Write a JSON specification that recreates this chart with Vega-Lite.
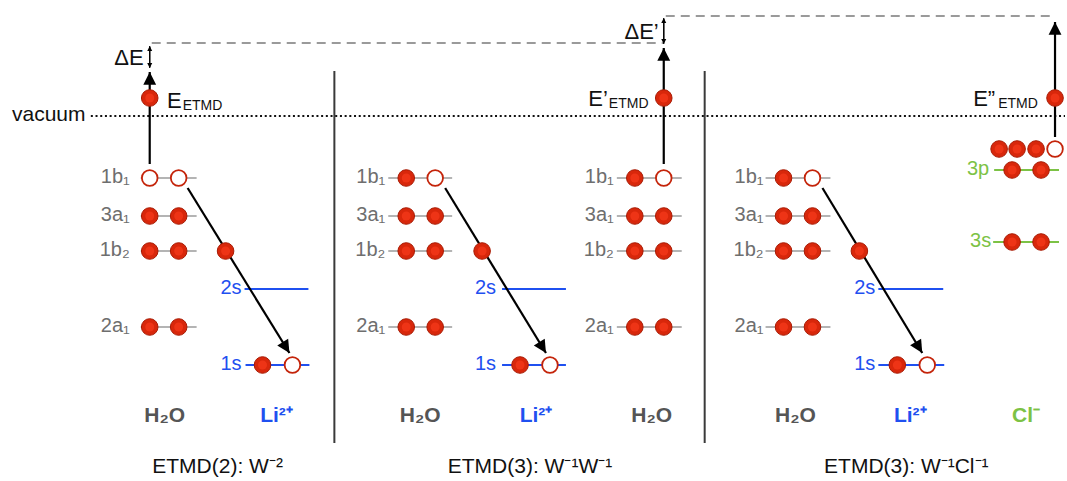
{
  "$schema": "https://vega.github.io/schema/vega-lite/v6.json",
  "width": 1067,
  "height": 481,
  "padding": 0,
  "autosize": {"type": "fit", "contains": "padding"},
  "background": "white",
  "config": {"view": {"stroke": null}, "text": {"font": "Liberation Sans"}},
  "datasets": {
    "seps": [{"x": 335, "y": 71, "y2": 443}, {"x": 706, "y": 71, "y2": 443}],
    "guides": [
      {"x": 152, "x2": 665, "y": 43, "kind": "dash"},
      {"x": 667, "x2": 1055, "y": 16, "kind": "dash"},
      {"x": 91, "x2": 1067, "y": 116, "kind": "dot"}
    ],
    "levels": [
      {"sp": "H2O", "x": 141, "x2": 197, "y": 178}, {"sp": "H2O", "x": 141, "x2": 197, "y": 216},
      {"sp": "H2O", "x": 141, "x2": 197, "y": 251}, {"sp": "H2O", "x": 141, "x2": 197, "y": 327},
      {"sp": "H2O", "x": 389, "x2": 453, "y": 178}, {"sp": "H2O", "x": 389, "x2": 453, "y": 216},
      {"sp": "H2O", "x": 389, "x2": 453, "y": 251}, {"sp": "H2O", "x": 389, "x2": 453, "y": 327},
      {"sp": "H2O", "x": 618, "x2": 683, "y": 178}, {"sp": "H2O", "x": 618, "x2": 683, "y": 216},
      {"sp": "H2O", "x": 618, "x2": 683, "y": 251}, {"sp": "H2O", "x": 618, "x2": 683, "y": 327},
      {"sp": "H2O", "x": 767, "x2": 832, "y": 178}, {"sp": "H2O", "x": 767, "x2": 832, "y": 216},
      {"sp": "H2O", "x": 767, "x2": 832, "y": 251}, {"sp": "H2O", "x": 767, "x2": 832, "y": 327},
      {"sp": "Li", "x": 245, "x2": 309, "y": 289}, {"sp": "Li", "x": 246, "x2": 310, "y": 365},
      {"sp": "Li", "x": 503, "x2": 567, "y": 289}, {"sp": "Li", "x": 503, "x2": 567, "y": 365},
      {"sp": "Li", "x": 880, "x2": 945, "y": 289}, {"sp": "Li", "x": 880, "x2": 946, "y": 365},
      {"sp": "Cl", "x": 996, "x2": 1061, "y": 170}, {"sp": "Cl", "x": 995, "x2": 1061, "y": 242}
    ],
    "arrows": [
      {"x": 150, "y": 164, "x2": 150, "y2": 72, "ang": 0, "kind": "big"},
      {"x": 188, "y": 188, "x2": 290, "y2": 353, "ang": 148.3, "kind": "big"},
      {"x": 446, "y": 188, "x2": 547, "y2": 353, "ang": 148.5, "kind": "big"},
      {"x": 665, "y": 164, "x2": 665, "y2": 48, "ang": 0, "kind": "big"},
      {"x": 824, "y": 188, "x2": 924, "y2": 353, "ang": 148.8, "kind": "big"},
      {"x": 1057, "y": 137, "x2": 1057, "y2": 22, "ang": 0, "kind": "big"},
      {"x": 150, "y": 67, "x2": 150, "y2": 46, "ang": 0, "kind": "small"},
      {"x": 150, "y": 47, "x2": 150, "y2": 68, "ang": 180, "kind": "small"},
      {"x": 665, "y": 42, "x2": 665, "y2": 18, "ang": 0, "kind": "small"},
      {"x": 665, "y": 19, "x2": 665, "y2": 44, "ang": 180, "kind": "small"}
    ],
    "elec": [
      {"x": 150, "y": 178, "st": "hole"}, {"x": 179, "y": 178, "st": "hole"},
      {"x": 150, "y": 216, "st": "full"}, {"x": 179, "y": 216, "st": "full"},
      {"x": 150, "y": 251, "st": "full"}, {"x": 179, "y": 251, "st": "full"},
      {"x": 150, "y": 327, "st": "full"}, {"x": 179, "y": 327, "st": "full"},
      {"x": 226, "y": 251, "st": "full"}, {"x": 263, "y": 365, "st": "full"},
      {"x": 293, "y": 365, "st": "hole"}, {"x": 150, "y": 98, "st": "full"},
      {"x": 407, "y": 178, "st": "full"}, {"x": 436, "y": 178, "st": "hole"},
      {"x": 407, "y": 216, "st": "full"}, {"x": 436, "y": 216, "st": "full"},
      {"x": 407, "y": 251, "st": "full"}, {"x": 436, "y": 251, "st": "full"},
      {"x": 407, "y": 327, "st": "full"}, {"x": 436, "y": 327, "st": "full"},
      {"x": 483, "y": 251, "st": "full"}, {"x": 521, "y": 365, "st": "full"},
      {"x": 551, "y": 365, "st": "hole"},
      {"x": 636, "y": 178, "st": "full"}, {"x": 665, "y": 178, "st": "hole"},
      {"x": 636, "y": 216, "st": "full"}, {"x": 665, "y": 216, "st": "full"},
      {"x": 636, "y": 251, "st": "full"}, {"x": 665, "y": 251, "st": "full"},
      {"x": 636, "y": 327, "st": "full"}, {"x": 665, "y": 327, "st": "full"},
      {"x": 665, "y": 98, "st": "full"},
      {"x": 785, "y": 178, "st": "full"}, {"x": 814, "y": 178, "st": "hole"},
      {"x": 785, "y": 216, "st": "full"}, {"x": 814, "y": 216, "st": "full"},
      {"x": 785, "y": 251, "st": "full"}, {"x": 814, "y": 251, "st": "full"},
      {"x": 785, "y": 327, "st": "full"}, {"x": 814, "y": 327, "st": "full"},
      {"x": 861, "y": 251, "st": "full"}, {"x": 899, "y": 365, "st": "full"},
      {"x": 929, "y": 365, "st": "hole"},
      {"x": 1001, "y": 149, "st": "full"}, {"x": 1019, "y": 149, "st": "full"},
      {"x": 1038, "y": 149, "st": "full"}, {"x": 1057, "y": 149, "st": "hole"},
      {"x": 1014, "y": 170, "st": "full"}, {"x": 1043, "y": 170, "st": "full"},
      {"x": 1014, "y": 242, "st": "full"}, {"x": 1043, "y": 242, "st": "full"},
      {"x": 1057, "y": 98, "st": "full"}
    ],
    "labels": [
      {"role": "lvl", "sp": "H2O", "x": 130, "y": 178, "t": "1b₁"}, {"role": "lvl", "sp": "H2O", "x": 130, "y": 216, "t": "3a₁"},
      {"role": "lvl", "sp": "H2O", "x": 130, "y": 251, "t": "1b₂"}, {"role": "lvl", "sp": "H2O", "x": 130, "y": 327, "t": "2a₁"},
      {"role": "lvl", "sp": "H2O", "x": 386, "y": 178, "t": "1b₁"}, {"role": "lvl", "sp": "H2O", "x": 386, "y": 216, "t": "3a₁"},
      {"role": "lvl", "sp": "H2O", "x": 386, "y": 251, "t": "1b₂"}, {"role": "lvl", "sp": "H2O", "x": 386, "y": 327, "t": "2a₁"},
      {"role": "lvl", "sp": "H2O", "x": 615, "y": 178, "t": "1b₁"}, {"role": "lvl", "sp": "H2O", "x": 615, "y": 216, "t": "3a₁"},
      {"role": "lvl", "sp": "H2O", "x": 615, "y": 251, "t": "1b₂"}, {"role": "lvl", "sp": "H2O", "x": 615, "y": 327, "t": "2a₁"},
      {"role": "lvl", "sp": "H2O", "x": 765, "y": 178, "t": "1b₁"}, {"role": "lvl", "sp": "H2O", "x": 765, "y": 216, "t": "3a₁"},
      {"role": "lvl", "sp": "H2O", "x": 765, "y": 251, "t": "1b₂"}, {"role": "lvl", "sp": "H2O", "x": 765, "y": 327, "t": "2a₁"},
      {"role": "lvl", "sp": "Li", "x": 242, "y": 289, "t": "2s"}, {"role": "lvl", "sp": "Li", "x": 242, "y": 365, "t": "1s"},
      {"role": "lvl", "sp": "Li", "x": 497, "y": 289, "t": "2s"}, {"role": "lvl", "sp": "Li", "x": 497, "y": 365, "t": "1s"},
      {"role": "lvl", "sp": "Li", "x": 877, "y": 289, "t": "2s"}, {"role": "lvl", "sp": "Li", "x": 877, "y": 365, "t": "1s"},
      {"role": "lvl", "sp": "Cl", "x": 991, "y": 170, "t": "3p"}, {"role": "lvl", "sp": "Cl", "x": 993, "y": 242, "t": "3s"},
      {"role": "bottom", "sp": "H2O", "x": 165, "y": 422, "t": "H₂O"}, {"role": "bottom", "sp": "Li", "x": 277, "y": 422, "t": "Li²⁺"},
      {"role": "bottom", "sp": "H2O", "x": 421, "y": 422, "t": "H₂O"}, {"role": "bottom", "sp": "Li", "x": 537, "y": 422, "t": "Li²⁺"},
      {"role": "bottom", "sp": "H2O", "x": 653, "y": 422, "t": "H₂O"},
      {"role": "bottom", "sp": "H2O", "x": 797, "y": 422, "t": "H₂O"}, {"role": "bottom", "sp": "Li", "x": 912, "y": 422, "t": "Li²⁺"},
      {"role": "bottom", "sp": "Cl", "x": 1028, "y": 422, "t": "Cl⁻"},
      {"role": "title", "sp": "none", "x": 218, "y": 473, "t": "ETMD(2): W⁻²"},
      {"role": "title", "sp": "none", "x": 531, "y": 473, "t": "ETMD(3): W⁻¹W⁻¹"},
      {"role": "title", "sp": "none", "x": 908, "y": 473, "t": "ETMD(3): W⁻¹Cl⁻¹"},
      {"role": "emain", "sp": "none", "x": 182, "y": 108, "t": "E"},
      {"role": "emain", "sp": "none", "x": 609, "y": 106, "t": "E’"},
      {"role": "emain", "sp": "none", "x": 997, "y": 106, "t": "E”"},
      {"role": "esub", "sp": "none", "x": 183, "y": 110, "t": "ETMD"},
      {"role": "esub", "sp": "none", "x": 610, "y": 108, "t": "ETMD"},
      {"role": "esub", "sp": "none", "x": 1000, "y": 108, "t": "ETMD"},
      {"role": "delta", "sp": "none", "x": 144, "y": 65, "t": "ΔE"},
      {"role": "delta", "sp": "none", "x": 660, "y": 39, "t": "ΔE’"},
      {"role": "vac", "sp": "none", "x": 12, "y": 121, "t": "vacuum"}
    ]
  },
  "encoding": {
    "x": {"field": "x", "type": "quantitative", "scale": {"domain": [0, 1067], "nice": false, "zero": false}, "axis": null},
    "y": {"field": "y", "type": "quantitative", "scale": {"domain": [0, 481], "nice": false, "zero": false, "reverse": true}, "axis": null}
  },
  "resolve": {"scale": {"color": "independent"}},
  "layer": [
    {
      "data": {"name": "seps"},
      "mark": {"type": "rule", "color": "#3a3a3a", "strokeWidth": 2},
      "encoding": {"y2": {"field": "y2"}}
    },
    {
      "data": {"name": "guides"},
      "transform": [{"filter": "datum.kind === 'dash'"}],
      "mark": {"type": "rule", "color": "#7a7a7a", "strokeWidth": 1.3, "strokeDash": [9, 6]},
      "encoding": {"x2": {"field": "x2"}}
    },
    {
      "data": {"name": "guides"},
      "transform": [{"filter": "datum.kind === 'dot'"}],
      "mark": {"type": "rule", "color": "#111111", "strokeWidth": 2.2, "strokeDash": [2, 2.7]},
      "encoding": {"x2": {"field": "x2"}}
    },
    {
      "data": {"name": "levels"},
      "mark": {"type": "rule", "strokeWidth": 2},
      "encoding": {
        "x2": {"field": "x2"},
        "color": {"field": "sp", "type": "nominal", "scale": {"domain": ["H2O", "Li", "Cl"], "range": ["#b4b4b4", "#1f50f0", "#7cc245"]}, "legend": null}
      }
    },
    {
      "data": {"name": "arrows"},
      "transform": [{"filter": "datum.kind === 'big'"}],
      "mark": {"type": "rule", "color": "#000000", "strokeWidth": 2.2},
      "encoding": {"x2": {"field": "x2"}, "y2": {"field": "y2"}}
    },
    {
      "data": {"name": "arrows"},
      "transform": [{"filter": "datum.kind === 'small'"}],
      "mark": {"type": "rule", "color": "#000000", "strokeWidth": 1.2},
      "encoding": {"x2": {"field": "x2"}, "y2": {"field": "y2"}}
    },
    {
      "data": {"name": "arrows"},
      "transform": [{"filter": "datum.kind === 'big'"}],
      "mark": {"type": "point", "shape": "M0,0L-0.5,1L0.5,1Z", "filled": true, "color": "#000000", "opacity": 1, "size": 660},
      "encoding": {
        "x": {"field": "x2", "type": "quantitative", "scale": {"domain": [0, 1067], "nice": false, "zero": false}, "axis": null},
        "y": {"field": "y2", "type": "quantitative", "scale": {"domain": [0, 481], "nice": false, "zero": false, "reverse": true}, "axis": null},
        "angle": {"field": "ang", "type": "quantitative", "scale": null}
      }
    },
    {
      "data": {"name": "arrows"},
      "transform": [{"filter": "datum.kind === 'small'"}],
      "mark": {"type": "point", "shape": "M0,0L-0.5,1L0.5,1Z", "filled": true, "color": "#000000", "opacity": 1, "size": 100},
      "encoding": {
        "x": {"field": "x2", "type": "quantitative", "scale": {"domain": [0, 1067], "nice": false, "zero": false}, "axis": null},
        "y": {"field": "y2", "type": "quantitative", "scale": {"domain": [0, 481], "nice": false, "zero": false, "reverse": true}, "axis": null},
        "angle": {"field": "ang", "type": "quantitative", "scale": null}
      }
    },
    {
      "data": {"name": "elec"},
      "transform": [{"filter": "datum.st === 'full'"}],
      "mark": {"type": "point", "shape": "circle", "filled": true, "fill": "#d8270b", "stroke": "#a81b04", "strokeWidth": 1, "opacity": 1, "size": 275}
    },
    {
      "data": {"name": "elec"},
      "transform": [{"filter": "datum.st === 'full'"}],
      "mark": {"type": "point", "shape": "circle", "filled": true, "fill": "#f5391b", "opacity": 0.75, "size": 80}
    },
    {
      "data": {"name": "elec"},
      "transform": [{"filter": "datum.st === 'hole'"}],
      "mark": {"type": "point", "shape": "circle", "filled": true, "fill": "#ffffff", "stroke": "#c4240a", "strokeWidth": 1.8, "opacity": 1, "size": 245}
    },
    {
      "data": {"name": "labels"},
      "transform": [{"filter": "datum.role === 'lvl'"}],
      "mark": {"type": "text", "align": "right", "baseline": "alphabetic", "dy": 5, "fontSize": 20},
      "encoding": {
        "text": {"field": "t"},
        "color": {"field": "sp", "type": "nominal", "scale": {"domain": ["H2O", "Li", "Cl"], "range": ["#6e6e6e", "#1f50f0", "#7cc245"]}, "legend": null}
      }
    },
    {
      "data": {"name": "labels"},
      "transform": [{"filter": "datum.role === 'bottom'"}],
      "mark": {"type": "text", "align": "center", "baseline": "alphabetic", "fontSize": 21, "fontWeight": "bold"},
      "encoding": {
        "text": {"field": "t"},
        "color": {"field": "sp", "type": "nominal", "scale": {"domain": ["H2O", "Li", "Cl"], "range": ["#555555", "#1f50f0", "#7cc245"]}, "legend": null}
      }
    },
    {
      "data": {"name": "labels"},
      "transform": [{"filter": "datum.role === 'title'"}],
      "mark": {"type": "text", "align": "center", "baseline": "alphabetic", "fontSize": 21, "color": "#111111"},
      "encoding": {"text": {"field": "t"}}
    },
    {
      "data": {"name": "labels"},
      "transform": [{"filter": "datum.role === 'emain'"}],
      "mark": {"type": "text", "align": "right", "baseline": "alphabetic", "fontSize": 22, "color": "#111111"},
      "encoding": {"text": {"field": "t"}}
    },
    {
      "data": {"name": "labels"},
      "transform": [{"filter": "datum.role === 'esub'"}],
      "mark": {"type": "text", "align": "left", "baseline": "alphabetic", "fontSize": 14, "color": "#111111"},
      "encoding": {"text": {"field": "t"}}
    },
    {
      "data": {"name": "labels"},
      "transform": [{"filter": "datum.role === 'delta'"}],
      "mark": {"type": "text", "align": "right", "baseline": "alphabetic", "fontSize": 22, "color": "#111111"},
      "encoding": {"text": {"field": "t"}}
    },
    {
      "data": {"name": "labels"},
      "transform": [{"filter": "datum.role === 'vac'"}],
      "mark": {"type": "text", "align": "left", "baseline": "alphabetic", "fontSize": 21, "color": "#111111"},
      "encoding": {"text": {"field": "t"}}
    }
  ]
}
